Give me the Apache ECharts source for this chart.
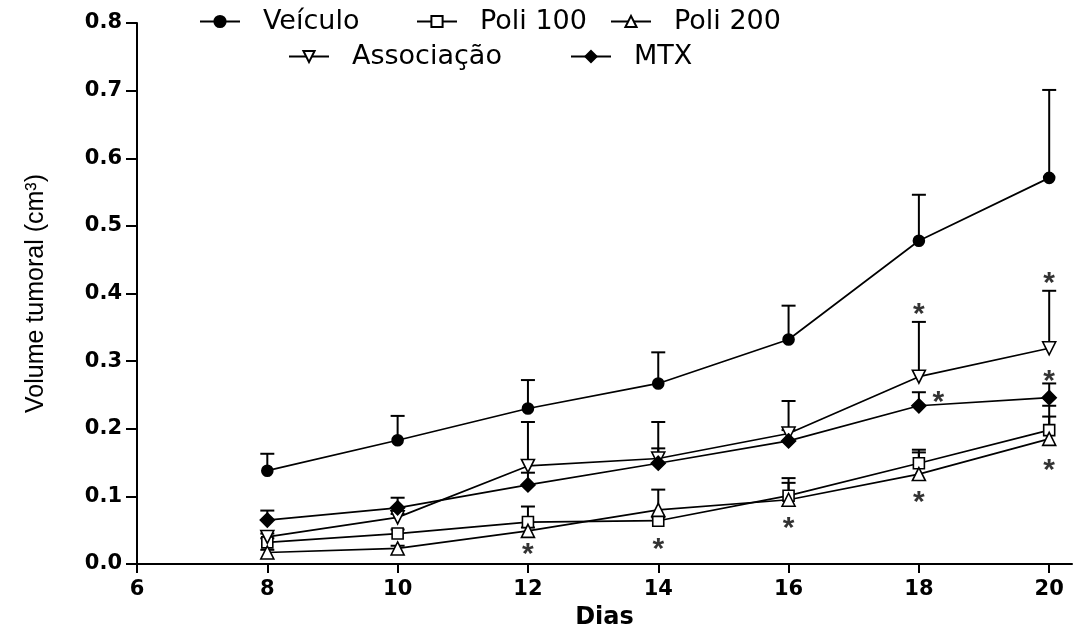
<!DOCTYPE html>
<html>
<head>
<meta charset="utf-8">
<script src="https://cdn.jsdelivr.net/npm/echarts@6/dist/echarts.min.js"></script>
<style>
	html, body { margin: 0; padding: 0; background: #fff; }
	#chart { width: 1075px; height: 630px; }
</style>
</head>
<body>
<div id="chart"></div>
<script>
// dias de medição
const days = [8, 10, 12, 14, 16, 18, 20];
const xTicks = [6, 8, 10, 12, 14, 16, 18, 20];

// médias e EPM (cm3)
const veiculo = [0.138, 0.183, 0.230, 0.267, 0.332, 0.478, 0.571];
const veiculoSem = [0.025, 0.036, 0.042, 0.046, 0.050, 0.068, 0.130];
const poli100 = [0.032, 0.045, 0.062, 0.064, 0.101, 0.149, 0.198];
const poli100Sem = [0.006, 0.006, 0.023, 0.005, 0.026, 0.020, 0.036];
const poli200 = [0.017, 0.023, 0.049, 0.080, 0.095, 0.133, 0.185];
const poli200Sem = [0.004, 0.004, 0.005, 0.030, 0.025, 0.032, 0.033];
const associacao = [0.040, 0.069, 0.145, 0.156, 0.193, 0.277, 0.319];
const associacaoSem = [0.005, 0.005, 0.065, 0.054, 0.048, 0.081, 0.085];
const mtx = [0.065, 0.083, 0.117, 0.149, 0.182, 0.234, 0.246];
const mtxSem = [0.014, 0.015, 0.018, 0.022, 0.016, 0.020, 0.021];

// asteriscos (p < 0.05)
const starDays = [12, 14, 16, 18, 20, 18, 20, 20, 18.3];
const starVals = [0.025, 0.033, 0.064, 0.103, 0.150, 0.381, 0.427, 0.281, 0.251];

const groups = [
	{ name: 'Veículo', mean: veiculo, sem: veiculoSem, symbol: 'circle', size: 11, fill: '#000', rotate: 0 },
	{ name: 'Poli 100', mean: poli100, sem: poli100Sem, symbol: 'rect', size: 11, fill: '#fff', rotate: 0 },
	{ name: 'Poli 200', mean: poli200, sem: poli200Sem, symbol: 'triangle', size: 13, fill: '#fff', rotate: 0 },
	{ name: 'Associação', mean: associacao, sem: associacaoSem, symbol: 'triangle', size: 13, fill: '#fff', rotate: 180 },
	{ name: 'MTX', mean: mtx, sem: mtxSem, symbol: 'diamond', size: 14, fill: '#000', rotate: 0 }
];

let errData = [];
groups.forEach(function(g) {
	days.forEach(function(d, i) {
		errData.push([d, g.mean[i], g.mean[i] + g.sem[i]]);
	});
});

let series = [{
	type: 'custom',
	z: 1,
	silent: true,
	data: errData,
	encode: { x: 0, y: [1, 2] },
	renderItem: function(params, api) {
		let p0 = api.coord([api.value(0), api.value(1)]);
		let p1 = api.coord([api.value(0), api.value(2)]);
		let st = { stroke: '#000', lineWidth: 2 };
		return {
			type: 'group',
			children: [
				{ type: 'line', shape: { x1: p0[0], y1: p0[1], x2: p1[0], y2: p1[1] }, style: st },
				{ type: 'line', shape: { x1: p1[0] - 7, y1: p1[1], x2: p1[0] + 7, y2: p1[1] }, style: st }
			]
		};
	}
}];

groups.forEach(function(g) {
	series.push({
		name: g.name,
		type: 'line',
		z: 2,
		data: days.map(function(d, i) { return [d, g.mean[i]]; }),
		symbol: g.symbol,
		symbolSize: g.size,
		symbolRotate: g.rotate,
		showAllSymbol: true,
		lineStyle: { color: '#000', width: 1.7 },
		itemStyle: { color: g.fill, borderColor: '#000', borderWidth: 1.6 },
		emphasis: { disabled: true }
	});
});

series.push({
	type: 'scatter',
	z: 3,
	silent: true,
	symbolSize: 0,
	data: starDays.map(function(d, i) { return [d, starVals[i]]; }),
	label: {
		show: true,
		formatter: '*',
		position: 'inside',
		offset: [0, 8],
		color: '#000',
		fontFamily: 'Liberation Sans',
		fontWeight: 'bold',
		fontSize: 30
	}
});

function makeLegend(name, left, top) {
	return {
		data: [name],
		left: left,
		top: top,
		padding: 0,
		itemWidth: 40,
		itemHeight: 14,
		selectedMode: false,
		textStyle: { fontFamily: 'DejaVu Sans', fontSize: 27, color: '#000', padding: [0, 0, 0, 18] }
	};
}

const chart = echarts.init(document.getElementById('chart'));
chart.setOption({
	backgroundColor: '#fff',
	animation: false,
	legend: [
		makeLegend('Veículo', 199, 8),
		makeLegend('Poli 100', 416, 8),
		makeLegend('Poli 200', 610, 8),
		makeLegend('Associação', 288, 43),
		makeLegend('MTX', 570, 43)
	],
	grid: { left: 137, right: 3, top: 23, bottom: 66, outerBoundsMode: 'none' },
	xAxis: {
		type: 'value',
		min: 6,
		max: 20.35,
		interval: 2,
		name: 'Dias',
		nameLocation: 'middle',
		nameGap: 42,
		nameTextStyle: { fontFamily: 'DejaVu Sans', fontWeight: 'bold', fontSize: 24, color: '#000' },
		axisLine: { lineStyle: { color: '#000', width: 2 } },
		axisTick: { length: 9, customValues: xTicks, lineStyle: { color: '#000', width: 2 } },
		axisLabel: {
			customValues: xTicks,
			margin: 15,
			fontFamily: 'DejaVu Sans', fontWeight: 'bold', fontSize: 21, color: '#000'
		},
		splitLine: { show: false }
	},
	yAxis: {
		type: 'value',
		min: 0,
		max: 0.8,
		interval: 0.1,
		name: 'Volume tumoral (cm³)',
		nameLocation: 'middle',
		nameGap: 88,
		nameTextStyle: { fontFamily: 'Liberation Sans', fontSize: 25, color: '#000' },
		axisLine: { show: true, lineStyle: { color: '#000', width: 2 } },
		axisTick: { show: true, length: 11, lineStyle: { color: '#000', width: 2 } },
		axisLabel: {
			margin: 15,
			formatter: function(v) { return v.toFixed(1); },
			fontFamily: 'DejaVu Sans', fontWeight: 'bold', fontSize: 21, color: '#000'
		},
		splitLine: { show: false }
	},
	series: series
});
</script>
</body>
</html>
